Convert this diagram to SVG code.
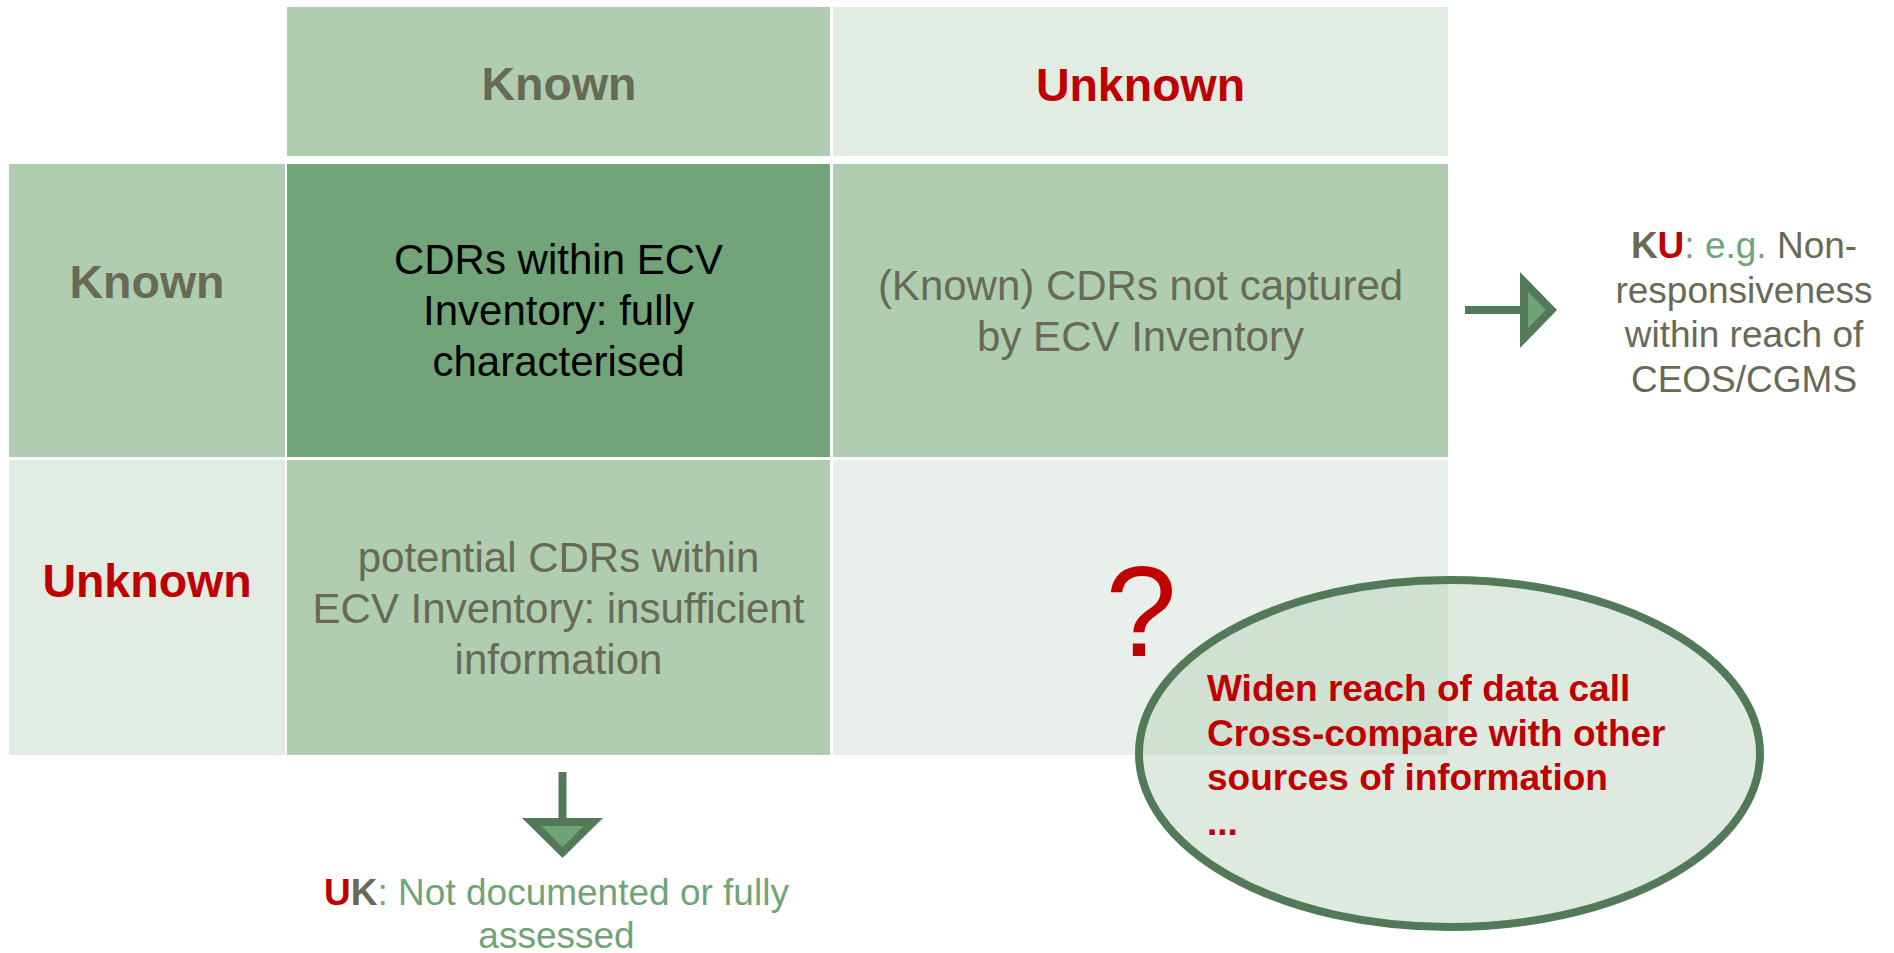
<svg xmlns="http://www.w3.org/2000/svg" width="1894" height="953" viewBox="0 0 1894 953">
<style>
text{font-family:"Liberation Sans",Arial,sans-serif}
.hd{font-size:46.5px;font-weight:bold;text-anchor:middle}
.cell{font-size:42px;text-anchor:middle}
.note{font-size:37px;text-anchor:middle}
.olive{fill:#686a56}
.red{fill:#c00000}
.grn{fill:#70a477}
.mid{fill:#b0cdb1}
.light{fill:#e1ece2}
.dark{fill:#72a479}
.pale{fill:#e9efea}
.bold{font-weight:bold}
.ell{font-size:37px;font-weight:bold;fill:#c00000}
</style>
<rect width="1894" height="953" fill="#ffffff"/>
<g id="header-known"><rect class="mid" x="287" y="7" width="543" height="149"/><text class="hd olive" x="559" y="100">Known</text></g>
<g id="header-unknown"><rect class="light" x="833" y="7" width="615" height="149"/><text class="hd red" x="1140.5" y="101">Unknown</text></g>
<g id="row-known"><rect class="mid" x="9" y="164" width="276" height="293"/><text class="hd olive" x="147" y="298">Known</text></g>
<g id="row-unknown"><rect class="light" x="9" y="460" width="276" height="295"/><text class="hd red" x="147" y="597">Unknown</text></g>
<g id="cell-kk"><rect class="dark" x="287" y="164" width="543" height="293"/>
<text class="cell" fill="#000" x="558.5" y="274">CDRs within ECV</text>
<text class="cell" fill="#000" x="558.5" y="325">Inventory: fully</text>
<text class="cell" fill="#000" x="558.5" y="375.5">characterised</text></g>
<g id="cell-ku"><rect class="mid" x="833" y="164" width="615" height="293"/>
<text class="cell olive" x="1140.5" y="300">(Known) CDRs not captured</text>
<text class="cell olive" x="1140.5" y="350.5">by ECV Inventory</text></g>
<g id="cell-uk"><rect class="mid" x="287" y="460" width="543" height="295"/>
<text class="cell olive" x="558.5" y="572">potential CDRs within</text>
<text class="cell olive" x="558.5" y="623">ECV Inventory: insufficient</text>
<text class="cell olive" x="558.5" y="674">information</text></g>
<g id="cell-uu"><rect class="pale" x="833" y="460" width="615" height="295"/>
<text class="red" x="1141" y="656" font-size="128" text-anchor="middle">?</text></g>
<g id="connectors">
<line x1="1465" y1="310" x2="1522" y2="310" stroke="#527a58" stroke-width="8"/>
<polygon points="1520,272 1557,310 1520,348" fill="#527a58"/>
<polygon points="1528,291.7 1545.8,310 1528,328.3" fill="#70a477"/>
<line x1="562.5" y1="772" x2="562.5" y2="820" stroke="#527a58" stroke-width="8"/>
<polygon points="522,818 603,818 562.5,858" fill="#527a58"/>
<polygon points="541.3,826 583.7,826 562.5,847.2" fill="#70a477"/>
</g>
<g id="note-ku">
<text class="note" x="1744" y="258"><tspan class="bold olive">K</tspan><tspan class="bold red">U</tspan><tspan class="grn">: e.g.</tspan><tspan class="olive"> Non-</tspan></text>
<text class="note olive" x="1744" y="302.7">responsiveness</text>
<text class="note olive" x="1744" y="347.4">within reach of</text>
<text class="note olive" x="1744" y="392">CEOS/CGMS</text>
</g>
<g id="note-uk">
<text class="note" x="556.5" y="905"><tspan class="bold red">U</tspan><tspan class="bold olive">K</tspan><tspan class="grn">: Not documented or fully</tspan></text>
<text class="note grn" x="556.5" y="948">assessed</text>
</g>
<g id="ellipse-actions">
<ellipse cx="1449.5" cy="753.5" rx="310.5" ry="173.5" fill="#a8c8aa" fill-opacity="0.38" stroke="#537a58" stroke-width="8"/>
<text class="ell" x="1207" y="701">Widen reach of data call</text>
<text class="ell" x="1207" y="745.5">Cross-compare with other</text>
<text class="ell" x="1207" y="790">sources of information</text>
<text class="ell" x="1207" y="835">...</text>
</g>
</svg>
